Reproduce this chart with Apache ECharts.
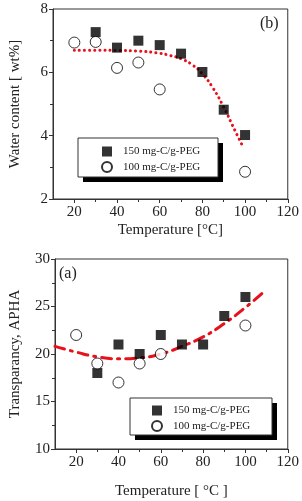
<!DOCTYPE html>
<html lang="en">
<head>
    <meta charset="UTF-8">
    <title>Water content / Transparancy</title>
</head>
<script src="https://cdn.jsdelivr.net/npm/echarts@6.0.0/dist/echarts.min.js" type="text/javascript"></script>
<body style="margin:0;background:#fff;">
<div id="chart" style="width:302px;height:501px;"></div>

<script type="text/javascript">
    // (b) water content
    var temp150 = [30, 40, 50, 60, 70, 80, 90, 100];
    var water150 = [7.27, 6.78, 7.0, 6.86, 6.59, 6.01, 4.82, 4.02];
    var temp100 = [20, 30, 40, 50, 60, 100];
    var water100 = [6.94, 6.96, 6.14, 6.31, 5.46, 2.86];
    var waterFitT = [20, 30, 40, 50, 60, 65, 70, 75, 80, 85, 90, 95, 99];
    var waterFit = [6.7, 6.7, 6.69, 6.67, 6.6, 6.53, 6.43, 6.25, 5.95, 5.5, 4.9, 4.2, 3.65];

    // (a) transparancy
    var apha150 = [18, 21, 20, 22, 21, 21, 24, 26];
    var apha100 = [22, 19, 17, 19, 20, 23];
    var aphaFitT = [10, 20, 30, 40, 50, 60, 70, 80, 90, 100, 108];
    var aphaFit = [20.8, 20.2, 19.7, 19.5, 19.6, 20.0, 20.8, 21.8, 23.2, 24.9, 26.4];

    var names = ['150 mg-C/g-PEG', '100 mg-C/g-PEG'];
    var xMajor = [20, 40, 60, 80, 100, 120];
    var xMinor = [30, 50, 70, 90, 110];

    function pairs(xs, ys) {
        return xs.map(function (x, i) { return [x, ys[i]]; });
    }

    var font = 'Liberation Serif';
    var axisColor = '#333';

    function xAx(gi, label, gap) {
        return {
            type: 'value', gridIndex: gi, min: 10, max: 120, interval: 10, position: 'bottom',
            name: label, nameLocation: 'middle', nameGap: gap,
            nameTextStyle: {fontFamily: font, fontSize: 15, color: '#222'},
            axisLine: {lineStyle: {color: axisColor, width: 1}},
            axisTick: {show: true, inside: false, length: 4, customValues: xMajor, lineStyle: {color: axisColor}},
            axisLabel: {fontFamily: font, fontSize: 15, color: '#222', margin: 6, customValues: xMajor},
            splitLine: {show: false}
        };
    }

    // second axis on the same grid, only for the short in-between ticks
    function xMinorAx(gi) {
        return {
            type: 'value', gridIndex: gi, min: 10, max: 120, interval: 10, position: 'bottom',
            axisLine: {show: false},
            axisTick: {show: true, inside: false, length: 3, customValues: xMinor, lineStyle: {color: axisColor}},
            axisLabel: {show: false},
            splitLine: {show: false}
        };
    }

    function yAx(gi, min, max, interval, label, gap) {
        return {
            type: 'value', gridIndex: gi, min: min, max: max, interval: interval,
            name: label, nameLocation: 'middle', nameGap: gap,
            nameTextStyle: {fontFamily: font, fontSize: 15, color: '#222'},
            axisLine: {lineStyle: {color: axisColor, width: 1}},
            axisTick: {show: true, inside: false, length: 4, lineStyle: {color: axisColor}},
            minorTick: {show: true, splitNumber: 2, length: 3, lineStyle: {color: axisColor}},
            axisLabel: {fontFamily: font, fontSize: 15, color: '#222', margin: 5},
            splitLine: {show: false}
        };
    }

    function legendItems(left, top) {
        return {
            data: names, orient: 'vertical', left: left, top: top,
            itemGap: 4, itemWidth: 10, itemHeight: 10, padding: 0, z: 6,
            textStyle: {fontFamily: font, fontSize: 11, color: '#222', padding: [0, 0, 0, 6]},
            selectedMode: false
        };
    }

    function legendFrame(x, y, w, h) {
        return [
            {type: 'rect', z: 5, shape: {x: x + 5, y: y + 5, width: w, height: h}, style: {fill: '#000'}},
            {type: 'rect', z: 5, shape: {x: x, y: y, width: w, height: h}, style: {fill: '#fff', stroke: '#333', lineWidth: 1}}
        ];
    }

    function scatter(name, gi, data, isSquare) {
        return {
            name: name, type: 'scatter', xAxisIndex: gi * 2, yAxisIndex: gi,
            symbol: isSquare ? 'rect' : 'circle',
            symbolSize: isSquare ? 10 : 11,
            itemStyle: isSquare ? {color: '#000'} : {color: '#fff', borderColor: '#000', borderWidth: 1},
            data: data, z: 3
        };
    }

    var chart = echarts.init(document.getElementById('chart'));
    var option = {
        animation: false,
        grid: [
            {left: 53, right: 14, top: 9, height: 190, show: true, borderColor: axisColor, borderWidth: 1},
            {left: 50, right: 14, top: 259, height: 190, show: true, borderColor: axisColor, borderWidth: 1}
        ],
        xAxis: [xAx(0, 'Temperature [°C]', 24), xMinorAx(0), xAx(1, 'Temperature [ °C ]', 35), xMinorAx(1)],
        yAxis: [
            yAx(0, 2, 8, 2, 'Water content [ wt%]', 30),
            yAx(1, 10, 30, 5, 'Transparancy, APHA', 32)
        ],
        legend: [legendItems(101, 146), legendItems(151, 405)],
        graphic: legendFrame(78, 138, 140, 39).concat(legendFrame(130, 398, 142, 37)).concat([
            {type: 'text', left: 260, top: 16, style: {text: '(b)', font: '16px "Liberation Serif"', fill: '#222'}},
            {type: 'text', left: 59, top: 266, style: {text: '(a)', font: '16px "Liberation Serif"', fill: '#222'}}
        ]),
        series: [
            scatter(names[0], 0, pairs(temp150, water150), true),
            scatter(names[1], 0, pairs(temp100, water100), false),
            {
                name: 'fit b', type: 'line', xAxisIndex: 0, yAxisIndex: 0,
                showSymbol: false, smooth: true, z: 2,
                lineStyle: {color: '#e8101a', width: 3, type: [0.1, 5], cap: 'round'},
                data: pairs(waterFitT, waterFit)
            },
            scatter(names[0], 1, pairs(temp150, apha150), true),
            scatter(names[1], 1, pairs(temp100, apha100), false),
            {
                name: 'fit a', type: 'line', xAxisIndex: 2, yAxisIndex: 1,
                showSymbol: false, smooth: true, z: 2,
                lineStyle: {color: '#e8101a', width: 3, type: [10, 6, 2, 6], cap: 'round'},
                data: pairs(aphaFitT, aphaFit)
            }
        ]
    };
    chart.setOption(option);
</script>
</body>
</html>
